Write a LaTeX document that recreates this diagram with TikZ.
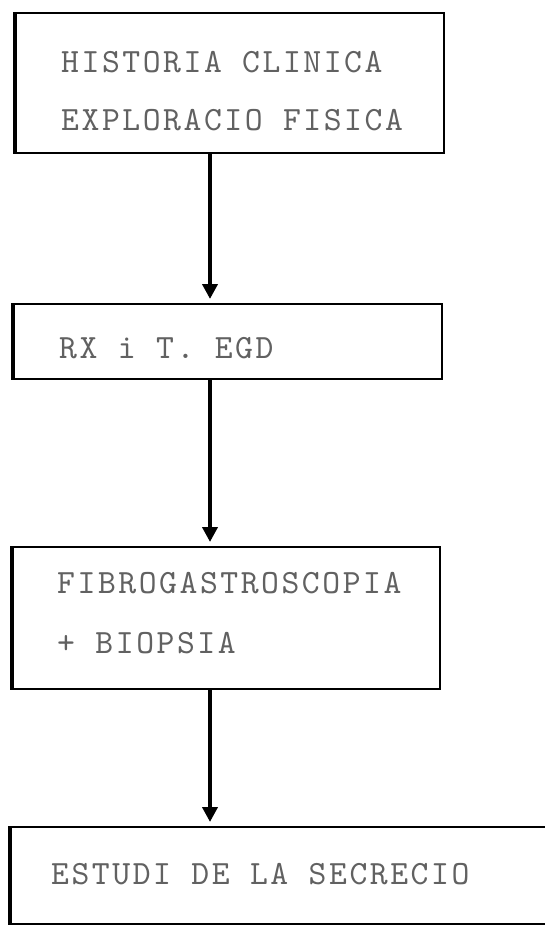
\documentclass[tikz,border=0pt]{standalone}
\usepackage{fontspec}
\usetikzlibrary{arrows.meta}
\newfontfamily\typewriter[LetterSpace=7.5]{lmmono10-regular.otf}
\tikzset{
  x=1pt, y=-1pt,
  stagebox/.style={draw=black, line width=2.4pt, rectangle, inner sep=0pt, anchor=north west},
  leftedge/.style={line width=4pt},
  stagetext/.style={anchor=base west, inner sep=0pt, text=black!62,
                    font=\typewriter\fontsize{34}{34}\selectfont},
  flow/.style={line width=3.8pt, -{Triangle[length=15pt,width=15pt]}, shorten >=4pt}
}
\begin{document}
\begin{tikzpicture}
\useasboundingbox (0,0) rectangle (545,927);

% stage boxes
\node[stagebox, minimum width=428pt, minimum height=140pt] (b1) at (15,12) {};
\node[stagebox, minimum width=428pt, minimum height=75pt]  (b2) at (13,303) {};
\node[stagebox, minimum width=427pt, minimum height=142pt] (b3) at (12,546) {};
\node[stagebox, minimum width=560pt, minimum height=97pt]  (b4) at (10,826) {};

% heavier left sides of the boxes
\draw[leftedge] (b1.north west) -- (b1.south west);
\draw[leftedge] (b2.north west) -- (b2.south west);
\draw[leftedge] (b3.north west) -- (b3.south west);
\draw[leftedge] (b4.north west) -- (b4.south west);

% labels
\node[stagetext] (t1a) at (61,72)  {HISTORIA CLINICA};
\node[stagetext] (t1b) at (61,130) {EXPLORACIO FISICA};
\node[stagetext] (t2)  at (59,358) {RX i T. EGD};
\node[stagetext] (t3a) at (57,593) {FIBROGASTROSCOPIA};
\node[stagetext] (t3b) at (57,653) {+ BIOPSIA};
\node[stagetext] (t4)  at (51,884) {ESTUDI DE LA SECRECIO};

% connectors
\coordinate (ax) at (210,0);
\draw[flow] (b1.south -| ax) -- (b2.north -| ax);
\draw[flow] (b2.south -| ax) -- (b3.north -| ax);
\draw[flow] (b3.south -| ax) -- (b4.north -| ax);
\end{tikzpicture}
\end{document}
